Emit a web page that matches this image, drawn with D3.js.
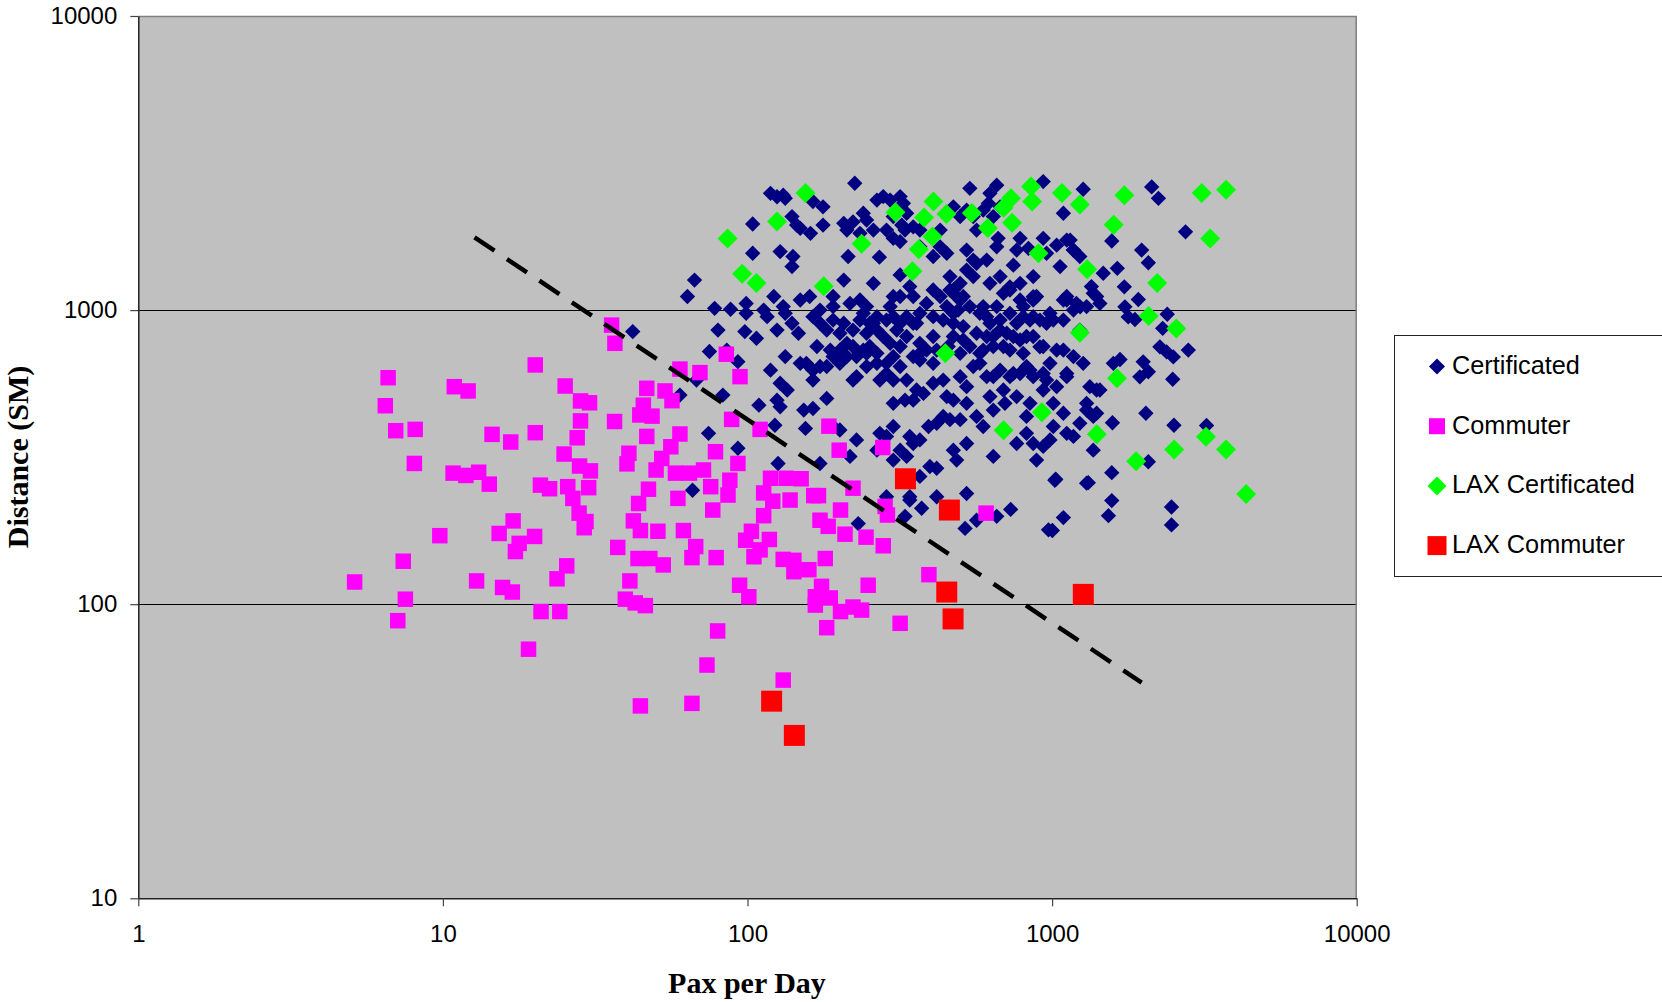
<!DOCTYPE html>
<html>
<head>
<meta charset="utf-8">
<title>Distance vs Pax per Day</title>
<script src="https://cdn.jsdelivr.net/npm/d3@7"></script>
<style>
body{margin:0;background:#fff;}
svg text{font-family:"Liberation Sans",Arial,sans-serif;}
</style>
</head>
<body>
<div id="chart"></div>
<script>
// [pax per day, distance SM]
var certificated=[
[225,2700],[119,2495],[125,2430],[131,2460],[133,2400],[164,2340],[177,2245],[537,2594],[658,2660],[625,2495],[935,2735],[1265,2576],[1089,2134],
[104,1963],[140,2080],[145,1946],[149,1897],[161,1824],[177,1946],[207,1972],[212,1871],[222,1995],[240,2134],[246,2023],[259,1871],[266,2366],
[279,2432],[294,2366],[317,2432],[325,2307],[333,2134],[321,1946],[329,1871],[286,1871],[301,1754],[317,1710],[350,1919],[368,1871],[429,1871],
[474,2244],[499,2080],[524,2188],[594,2188],[618,2307],[641,2080],[675,2244],[565,1871],[665,1754],[785,1754],[935,1754],[1035,1663],[1146,1730],
[1175,1600],[836,1622],[959,1560],[765,1600],[658,1641],[524,1600],[551,1479],[451,1560],[429,1641],
[104,1560],[128,1581],[141,1521],[140,1406],[214,1521],[271,1514],[317,1317],[341,1202],[350,1112],[387,1054],[429,1112],[462,1300],[474,1170],
[499,1233],[511,1112],[524,1368],[551,1300],[565,1442],[610,1479],[625,1233],[675,1300],[692,1140],[746,1422],[785,1233],[867,1300],[889,1112],
[1062,1406],[1233,1521],[1346,1202],[1117,1112],[1202,1054],[1400,1112],[67,1265],[63.5,1112],[78,1014],[88,1007],[99,1054],[99,975],[113,1000],
[116,950],[122,1112],[131,1028],[133,975],[149,1082],[160,1112],[173,1000],[191,1112],[207,1265],[217,1054],[234,1082],[246,1028],[259,1233],
[266,950],[294,1028],[301,950],[317,1112],[333,950],[359,902],
[42,845],[80,855],[98,845],[107,802],[125,855],[140,902],[147,834],[164,950],[173,902],[191,925],[201,834],[222,855],[234,925],[246,834],[252,902],
[266,855],[286,925],[309,855],[368,975],[407,950],[439,925],[474,975],[499,1082],[537,1028],[579,975],[625,902],[675,925],[727,975],[804,1028],
[867,950],[984,975],[1089,1082],[1175,1000],[1298,1028],[407,813],[474,813],[511,791],[565,834],[610,813],[641,752],[746,813],[867,813],[935,752],
[1035,731],[1175,695],[804,713],[727,731],[579,713],[537,752],[368,771],[387,731],[350,695],[368,676],[317,752],[301,695],[286,659],[266,659],
[252,752],[246,713],[222,752],[212,695],[191,695],[201,659],[187,731],[169,752],[173,643],[164,625],[156,659],[149,659],[133,695],[119,625],
[128,564],[135,535],[93,668],[75,723],[85.5,731],
[164,578],[182,643],[222,578],[228,594],[272,578],[286,609],[317,643],[333,578],[359,535],[378,521],[350,494],[329,494],[301,482],[301,578],
[407,564],[439,578],[524,549],[579,659],[610,594],[675,625],[727,594],[785,609],[824,643],[867,594],[959,578],[1035,549],[1117,594],[1089,731],
[1265,659],[1330,549],[1400,535],[700,482],[765,508],[846,482],[935,535],[1009,482],[1089,446],[1298,482],[1365,435],[625,508],[524,482],
[474,494],[451,508],[439,435],[462,424],[499,424],[418,412],[393,402],[368,362],[341,372],[301,402],[286,372],[272,381],[266,334],[317,334],
[301,309],[333,318],[228,362],[217,318],[201,391],[191,402],[182,501],[164,463],[155,396],[153,457],[128,469],[125,494],[109,475],[83,514],
[60,514],[74.5,381],[93,339],[126,301],[173,301],[350,352],[397,294],[418,290],[474,334],[486,309],[524,352],[565,435],[594,402],[641,457],
[692,535],[824,435],[824,381],[867,352],[889,309],[935,344],[984,362],[1009,402],[1117,381],[1175,372],[1233,412],[1298,457],[1400,446],
[1365,334],[1298,258],[1021,264],[641,318],[765,352],[524,238],[286,232],[341,232],[418,232],[368,272],[66,244],[123,406],[68,578],
[2123,2624],[2234,2399],[2742,1845],[1570,1718],[1968,1600],[2070,1449],[1637,1387],[1726,1200],[1919,1087],[1734,1026],[1778,948],[1871,929],
[2388,968],[2307,867],[2259,750],[2377,721],[2500,693],[2800,731],[1671,679],[1589,659],[1991,667],[2070,617],[1941,593],[2489,582],[1578,414],
[2032,446],[2512,406],[3214,405],[2070,305],[1570,280],[1570,225],[1531,200],[2466,214],[2466,186],[1435,535],[1472,1334],[731,210],[1089,197],
[1002,178],[1315,259],[1028,266],
[373,212],[341,226],[329,199],[518,181],[565,193],[658,199],[973,179],[231,188],
[462,1170],[486,1112],[451,1028],[492,1000],[474,902],[511,879],[456,752],[499,713],[594,1028],[610,950],[658,1028],[675,855],[641,813],[692,752],
[594,731],[765,902],[824,813],[867,1082],[912,925],[240,975],[259,902],[279,813],[240,731],[266,713],[294,771],[191,1028],[182,855],[207,902],
[212,771],[201,731],[350,902],[333,813],[368,713],[407,659],[418,731],[317,902],[551,643],[641,594],[499,594],[246,643],[228,695],[301,1112],
[407,1170],[727,1170],[804,950],[1089,925],[1233,855],[984,659],[551,2080],[301,2080],[234,1824],[368,1641],[407,1521],
[727,1200],[785,1082],[867,1110],[846,925],[959,902],[1009,925],[710,834],[785,791],[912,750],[746,609],[846,625],[935,609],[1117,609],
[1117,1082],[1236,1026],[1435,1054],[1365,1140],[1117,1730],[1175,1600]
];

var commuter=[
[6.61,589],[6.47,473],[7.00,389],[8.11,393],[8.06,301],[10.9,549],[12.1,531],[10.8,279],[11.9,274],[13.1,281],[14.2,256],[14.5,378],[16.7,356],
[20.1,651],[20.1,383],[25.2,552],[28.3,491],[30.3,484],[28.3,420],[27.6,368],[25.0,324],[28.1,295],[30.5,284],[20.9,254],[22.4,247],[25.7,251],
[26.7,229],[30.1,249],[28.0,204],[29.5,191],[29.1,182],[17.0,192],[15.3,174],[20.0,170],[17.8,161],[17.3,151],[9.77,171],[7.41,140],[5.13,119],
[7.53,104],[7.11,87.9],[12.9,120],[15.7,114],[16.9,110],[25.5,135],[23.7,122],[21.0,94.4],[24.2,94.4],[19.1,70.3],[36.7,771],[36.6,418],
[46.7,542],[53.6,531],[56.5,492],[45.5,475],[44.3,440],[48.6,436],[46.7,372],[40.8,326],[40.2,300],[60.0,379],[60.0,630],[69.8,613],[85.2,708],
[94.5,594],[88.7,425],[110,393],[78.5,330],[93.0,301],[56.0,343],[52.3,313],[50.1,286],[58.0,279],[64.5,279],[71.7,286],[75.7,251],[86.3,235],
[87.5,264],[47.3,246],[43.9,220],[59.1,229],[76.9,209],[42.2,192],[44.5,178],[50.8,177],[61.6,178],[37.5,156],[43.7,143],[47.8,143],[52.9,136],
[67.6,157],[65.7,144],[78.9,144],[41.1,120],[39.7,104],[42.8,101],[46.2,98.9],[94.2,116],[101,106],[79.8,81.1],[73.6,62.1],[65.7,46.0],[44.5,45.1],
[131,55.2],[113,239],[121,224],[138,226],[119,268],[134,268],[150,267],[165,234],[171,234],[185,403],[200,334],[113,200],[103,177],[98.6,165],
[118,166],[105,145],[110,153],[131,142],[142,141],[142,129],[159,131],[180,143],[173,193],[184,184],[202,209],[209,173],[175,115],[167,106],
[167,99.3],[187,105],[202,94.4],[182,83.2],[278,341],[222,248],[283,215],[288,201],[245,169],[279,158],[394,126],[249,116],[237,95.5],[222,97.8],
[317,86.1],[607,204],[35.8,889]
];

var laxCertificated=[
[155,2500],[125,2000],[86,1750],[96,1330],[107,1236],[237,1680],[178,1205],[306,2150],[380,2065],[408,2340],[450,2120],[405,1780],[365,1610],
[348,1355],[545,2140],[615,1900],[733,2400],[693,2230],[739,1980],[853,2630],[860,2340],[1077,2500],[1233,2285],[902,1560],[1304,1377],
[1233,838],[446,714],[925,449],[693,390],[1402,378],[1727,2460],[3100,2500],[3725,2566],[3304,1750],[1593,1950],[2213,1236],[2075,955],
[2557,865],[1633,586],[1887,306],[2516,336],[3200,371],[3725,336],[4336,237]
];

var laxCommuter=[[330,267],[460,209],[451,110],[473,89.1],[1266,108],[120,46.8],[142.5,35.8]];

// dashed trend line end points
var trendLine=[[12.7,1767],[1968,54.1]];

var xTicks=[1,10,100,1000,10000];
var yTicks=[10,100,1000,10000];
var seriesNames=['Certificated','Commuter','LAX Certificated','LAX Commuter'];

var W=1662,H=1002;
var plot={left:138.3,right:1356.7,top:16,bottom:898.3};

var svg=d3.select('#chart').append('svg')
    .attr('width',W).attr('height',H);

var x=d3.scaleLog().domain([1,10000]).range([plot.left,plot.right]);
var y=d3.scaleLog().domain([10,10000]).range([plot.bottom,plot.top]);

// plot area
svg.append('rect')
    .attr('x',plot.left).attr('y',plot.top)
    .attr('width',plot.right-plot.left).attr('height',plot.bottom-plot.top)
    .attr('fill','#c0c0c0');

// gridlines at 100 and 1000
svg.append('g').selectAll('line').data([100,1000]).enter().append('line')
    .attr('x1',plot.left).attr('x2',plot.right)
    .attr('y1',d=>Math.round(y(d))+0.5).attr('y2',d=>Math.round(y(d))+0.5)
    .attr('stroke','#000').attr('stroke-width',1);

// top and right border
svg.append('path')
    .attr('d','M'+plot.left+','+(plot.top+0.5)+'H'+(plot.right-0.5)+'V'+plot.bottom)
    .attr('fill','none').attr('stroke','#808080').attr('stroke-width',1.5);

var xAxis=svg.append('g')
    .attr('transform','translate(0,'+plot.bottom+')')
    .call(d3.axisBottom(x).tickValues(xTicks).tickFormat(d3.format('d')).tickSize(8).tickSizeOuter(0).tickPadding(19));
var yAxis=svg.append('g')
    .attr('transform','translate('+plot.left+',0)')
    .call(d3.axisLeft(y).tickValues(yTicks).tickFormat(d3.format('d')).tickSize(8).tickSizeOuter(0).tickPadding(13));
[xAxis,yAxis].forEach(function(ax){
    ax.select('.domain').attr('stroke','#222').attr('stroke-width',1.5);
    ax.selectAll('.tick line').attr('stroke','#444').attr('stroke-width',1.2);
    ax.selectAll('.tick text').attr('font-size',24).attr('fill','#000');
});

// markers
function drawMarker(g,shape,size,color){
    var sym=d3.symbol().type(d3.symbolSquare).size(size);
    g.append('path')
        .attr('d',sym)
        .attr('transform',shape==='diamond'?'rotate(45)':null)
        .attr('fill',color);
}

var series=[
    {name:seriesNames[0],data:certificated,shape:'diamond',size:118,legendSize:128,color:'#000080'},
    {name:seriesNames[1],data:commuter,shape:'square',size:240,legendSize:256,color:'#ff00ff'},
    {name:seriesNames[2],data:laxCertificated,shape:'diamond',size:200,legendSize:180,color:'#00ff00'},
    {name:seriesNames[3],data:laxCommuter,shape:'square',size:441,legendSize:361,color:'#ff0000'}
];

series.forEach(function(s){
    var pts=svg.append('g').selectAll('g').data(s.data).enter().append('g')
        .attr('transform',d=>'translate('+x(d[0])+','+y(d[1])+')');
    pts.each(function(){ drawMarker(d3.select(this),s.shape,s.size,s.color); });
});

// dashed line
svg.append('line')
    .attr('x1',x(trendLine[0][0])).attr('y1',y(trendLine[0][1]))
    .attr('x2',x(trendLine[1][0])).attr('y2',y(trendLine[1][1]))
    .attr('stroke','#000').attr('stroke-width',4.5)
    .attr('stroke-dasharray','24,15');

// legend
var legend=svg.append('g');
legend.append('rect')
    .attr('x',1394.5).attr('y',335.5).attr('width',300).attr('height',241)
    .attr('fill','#fff').attr('stroke','#222').attr('stroke-width',1);
series.forEach(function(s,i){
    var cy=366.5+i*59.7;
    var mk=legend.append('g').attr('transform','translate(1437,'+cy+')');
    drawMarker(mk,s.shape,s.legendSize,s.color);
    legend.append('text')
        .attr('x',1452).attr('y',cy+7.5)
        .attr('font-size',25.3).attr('fill','#000')
        .text(s.name);
});

// axis titles
svg.append('text')
    .attr('x',747).attr('y',993)
    .attr('text-anchor','middle')
    .style('font-family','"Liberation Serif","Times New Roman",serif')
    .style('font-weight','bold').style('font-size','30px')
    .text('Pax per Day');
svg.append('text')
    .attr('transform','translate(28,457) rotate(-90)')
    .attr('text-anchor','middle')
    .style('font-family','"Liberation Serif","Times New Roman",serif')
    .style('font-weight','bold').style('font-size','30px')
    .text('Distance (SM)');
</script>
</body>
</html>
